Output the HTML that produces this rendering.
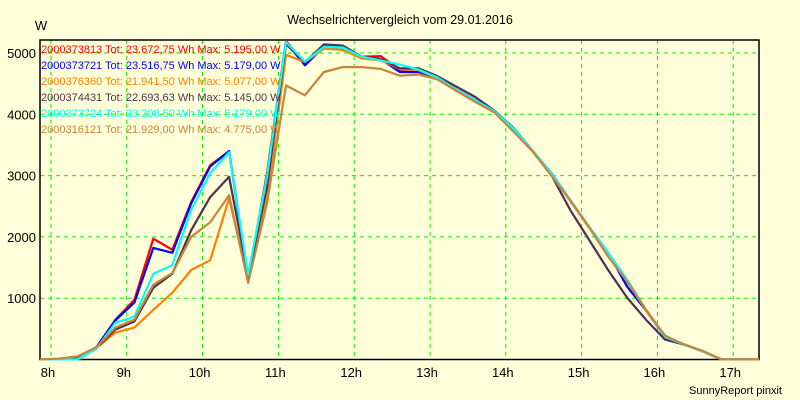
<!DOCTYPE html>
<html><head><meta charset="utf-8"><style>
html,body{margin:0;padding:0;background:#ffffd9;}
svg{display:block;font-family:"Liberation Sans",Arial,sans-serif;}
</style></head><body>
<svg id="chart" width="800" height="400" viewBox="0 0 800 400">
<rect x="0" y="0" width="800" height="400" fill="#ffffd9"/>
<text x="400" y="24" text-anchor="middle" font-size="12.5" fill="#000">Wechselrichtervergleich vom 29.01.2016</text>
<text x="41" y="30" text-anchor="middle" font-size="13" fill="#000">W</text>
<text x="782" y="394" text-anchor="end" font-size="11" fill="#000">SunnyReport pinxit</text>
<g id="grid"></g>
<g id="axes"></g>
<g id="series"></g>
<g id="legend"></g>
</svg>
<script>
const times = [7.85,8.1,8.35,8.6,8.85,9.1,9.35,9.6,9.85,10.1,10.35,10.6,10.85,11.1,11.35,11.6,11.85,12.1,12.35,12.6,12.85,13.1,13.35,13.6,13.85,14.1,14.35,14.6,14.85,15.1,15.35,15.6,15.85,16.1,16.35,16.6,16.85,17.1,17.35];
const xTicks = [8,9,10,11,12,13,14,15,16,17];
const xTickLabels = ["8h","9h","10h","11h","12h","13h","14h","15h","16h","17h"];
const yTicks = [1000,2000,3000,4000,5000];
const yTickLabels = ["1000","2000","3000","4000","5000"];
const seriesIds = ["2000373813","2000373721","2000376360","2000374431","2000373724","2000316121"];
const seriesTot = ["23.672,75","23.516,75","21.941,50","22.693,63","23.208,50","21.929,00"];
const seriesMax = ["5.195,00","5.179,00","5.077,00","5.145,00","5.179,00","4.775,00"];
const seriesColors = ["#ff0000","#0000ff","#ff8000","#4e3050","#00ffff","#c8843c"];
const red = [0,0,40,200,650,975,1970,1790,2570,3170,3400,1320,3040,5195,4830,5100,5090,4940,4950,4730,4730,4600,4400,4230,4050,3770,3410,3040,2600,2160,1740,1300,810,370,245,130,0,0,0];
const blue = [0,0,40,200,640,930,1820,1740,2550,3150,3400,1320,2930,5179,4800,5100,5090,4930,4900,4690,4690,4600,4400,4230,4050,3770,3410,3040,2600,2160,1740,1190,800,370,245,130,0,0,0];
const orange = [0,0,40,190,440,520,810,1090,1460,1620,2630,1280,2650,4970,4850,5070,5050,4910,4880,4740,4720,4590,4400,4220,4040,3760,3400,3030,2590,2150,1700,1280,800,380,245,130,0,0,0];
const dark = [0,0,40,190,490,620,1170,1400,2110,2650,2980,1350,2810,5145,4850,5140,5120,4940,4900,4750,4750,4620,4450,4280,4060,3780,3410,3010,2440,1950,1460,1010,650,325,245,130,0,0,0];
const cyan = [0,0,0,180,600,700,1400,1540,2440,3040,3380,1380,2980,5179,4860,5100,5090,4940,4880,4810,4730,4600,4400,4230,4050,3770,3410,3040,2600,2160,1740,1300,810,370,245,130,0,0,0];
const brown = [0,15,50,200,520,650,1220,1410,2000,2240,2680,1250,2550,4470,4310,4690,4770,4770,4740,4630,4650,4570,4380,4200,4030,3720,3400,3000,2590,2150,1680,1270,810,390,250,140,0,0,0];

const NS="http://www.w3.org/2000/svg";
const L=40,R=759,T=40,B=359.5;
function xs(t){return 51+(t-8)*75.8;}
function ys(v){return 359.5-v*0.0613;}
function mk(tag,attrs,parent){const e=document.createElementNS(NS,tag);for(const k in attrs)e.setAttribute(k,attrs[k]);parent.appendChild(e);return e;}
const svg=document.getElementById('chart');
const grid=document.getElementById('grid'),axes=document.getElementById('axes'),sg=document.getElementById('series'),lg=document.getElementById('legend');
const defs=mk('defs',{},svg);
const cp=mk('clipPath',{id:'plotclip'},defs);
mk('rect',{x:L,y:T-2,width:R-L,height:B-T+3},cp);

xTicks.forEach((t,i)=>{
  const x=xs(t);
  const g=mk('line',{x1:x,y1:T,x2:x,y2:B,stroke:'#00ee00','stroke-width':1,'stroke-dasharray':'4,4'},grid);
  
  
  const tx=mk('text',{x:x-3,y:377,'text-anchor':'middle','font-size':13,fill:'#000'},axes);
  tx.textContent=xTickLabels[i];
  
  
});
yTicks.forEach((v,i)=>{
  const y=ys(v);
  const g=mk('line',{x1:L,y1:y,x2:R,y2:y,stroke:'#00ee00','stroke-width':1,'stroke-dasharray':'4,4'},grid);
  
  
  const tx=mk('text',{x:36,y:y+5,'text-anchor':'end','font-size':13,fill:'#000'},axes);
  tx.textContent=yTickLabels[i];
  
  
});
const frame=mk('path',{d:`M${L},${T} H${R} V${B} H${L} Z`,fill:'none',stroke:'#000','stroke-width':1.5},axes);



const allSeries=[red,blue,orange,dark,cyan,brown];
allSeries.forEach((vals,si)=>{
  const d=vals.map((v,i)=>(i?'L':'M')+xs(times[i]).toFixed(1)+','+ys(v).toFixed(1)).join(' ');
  const p=mk('path',{d:d,fill:'none',stroke:seriesColors[si],'stroke-width':2.2,'stroke-linejoin':'round','clip-path':'url(#plotclip)'},sg);
  
  
});
seriesIds.forEach((id,si)=>{
  const tx=mk('text',{x:41,y:53+si*16,'font-size':11,fill:seriesColors[si]},lg);
  tx.textContent=id+' Tot: '+seriesTot[si]+' Wh Max: '+seriesMax[si]+' W';
  
  
});
</script>
</body></html>
